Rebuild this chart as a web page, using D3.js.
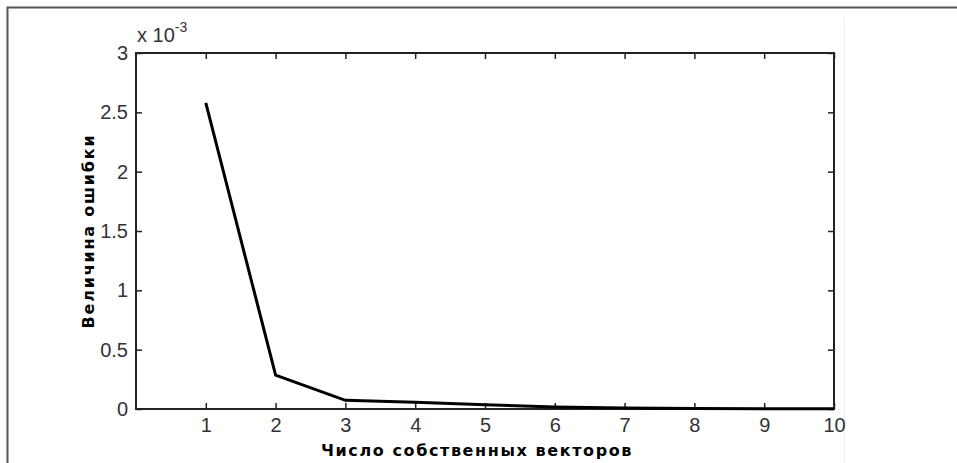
<!DOCTYPE html>
<html>
<head>
<meta charset="utf-8">
<script src="https://cdn.jsdelivr.net/npm/d3@7"></script>
<style>
  body { margin: 0; background: #fff; }
  svg { display: block; }
</style>
</head>
<body>
<svg id="chart" width="957" height="463"></svg>
<script>
// число собственных векторов -> величина ошибки (в единицах 1e-3)
let vectors = [1, 2, 3, 4, 5, 6, 7, 8, 9, 10]
let errors = [2.58, 0.285, 0.073, 0.056, 0.036, 0.017, 0.008, 0.004, 0.003, 0.002]
let xTicks = [1, 2, 3, 4, 5, 6, 7, 8, 9, 10]
let yTicks = [0, 0.5, 1, 1.5, 2, 2.5, 3]
let xTitle = "Число собственных векторов",
    yTitle = "Величина ошибки"

let marginLeft = 136,
    marginRight = 123,
    marginTop = 53,
    marginBottom = 54;

let svg = d3.select("#chart"),
    width = +svg.attr("width"),
    height = +svg.attr("height"),
    w = width - marginLeft - marginRight,
    h = height - marginTop - marginBottom

let x = d3.scaleLinear([0, 10], [0, w]),
    y = d3.scaleLinear([0, 3], [h, 0])

// рамка окна
svg.append("path")
    .attr("d", `M7.5,${height}V7.5H${width}`)
    .attr("fill", "none")
    .attr("stroke", "#555")
    .attr("stroke-width", 2)
svg.append("line")
    .attr("x1", 844.5).attr("x2", 844.5)
    .attr("y1", 18).attr("y2", height)
    .attr("stroke", "#eee")

let g = svg.append("g").attr("transform", `translate(${marginLeft}, ${marginTop})`)

let TICK = 6, FONT = "'Liberation Sans Narrow', 'Liberation Sans', Arial, sans-serif"

function styleAxis(a, showText) {
    a.select(".domain").remove()
    a.selectAll("line").attr("stroke", "#222").attr("stroke-width", 1.5)
    a.selectAll("text")
        .attr("font-family", FONT)
        .attr("font-stretch", "condensed")
        .attr("font-size", 20)
        .attr("fill", "#333")
    if (!showText) a.selectAll("text").remove()
}

// нижняя и верхняя оси
g.append("g")
    .attr("transform", `translate(0, ${h})`)
    .call(d3.axisTop(x).tickValues(xTicks).tickSize(TICK).tickFormat(d => d))
    .call(a => {
        a.selectAll("text").attr("y", 9).attr("dy", "0.71em")
        styleAxis(a, true)
    })
g.append("g")
    .call(d3.axisBottom(x).tickValues(xTicks).tickSize(TICK))
    .call(a => styleAxis(a, false))

// левая и правая оси
g.append("g")
    .call(d3.axisRight(y).tickValues(yTicks).tickSize(TICK).tickFormat(d => d))
    .call(a => {
        a.selectAll("text").attr("x", -8).attr("text-anchor", "end")
        styleAxis(a, true)
    })
g.append("g")
    .attr("transform", `translate(${w}, 0)`)
    .call(d3.axisLeft(y).tickValues(yTicks).tickSize(TICK))
    .call(a => styleAxis(a, false))

// рамка графика
g.append("rect")
    .attr("width", w).attr("height", h)
    .attr("fill", "none")
    .attr("stroke", "#222")
    .attr("stroke-width", 2)

// множитель
let mult = g.append("text")
    .attr("x", 1).attr("y", -11)
    .attr("font-family", FONT)
    .attr("font-stretch", "condensed")
    .attr("font-size", 20)
    .attr("fill", "#333")
mult.append("tspan").text("x 10")
mult.append("tspan").attr("dy", -10).attr("font-size", 14).text("-3")

// кривая ошибки
let line = d3.line()
    .x((d, i) => x(vectors[i]))
    .y(d => y(d))
g.append("path")
    .attr("d", line(errors))
    .attr("fill", "none")
    .attr("stroke", "#000")
    .attr("stroke-width", 3)
    .attr("stroke-linejoin", "miter")

// подписи осей
svg.append("text")
    .attr("x", marginLeft + w / 2 - 8)
    .attr("y", 456)
    .attr("text-anchor", "middle")
    .attr("font-family", "'DejaVu Sans', Verdana, sans-serif")
    .attr("font-weight", "bold")
    .attr("font-size", 16)
    .attr("letter-spacing", 1.6)
    .attr("fill", "#000")
    .text(xTitle)
svg.append("text")
    .attr("transform", `translate(94, ${marginTop + h / 2}) rotate(-90)`)
    .attr("text-anchor", "middle")
    .attr("font-family", "'DejaVu Sans', Verdana, sans-serif")
    .attr("font-weight", "bold")
    .attr("font-size", 16)
    .attr("letter-spacing", 1.8)
    .attr("fill", "#000")
    .text(yTitle)
</script>
</body>
</html>
